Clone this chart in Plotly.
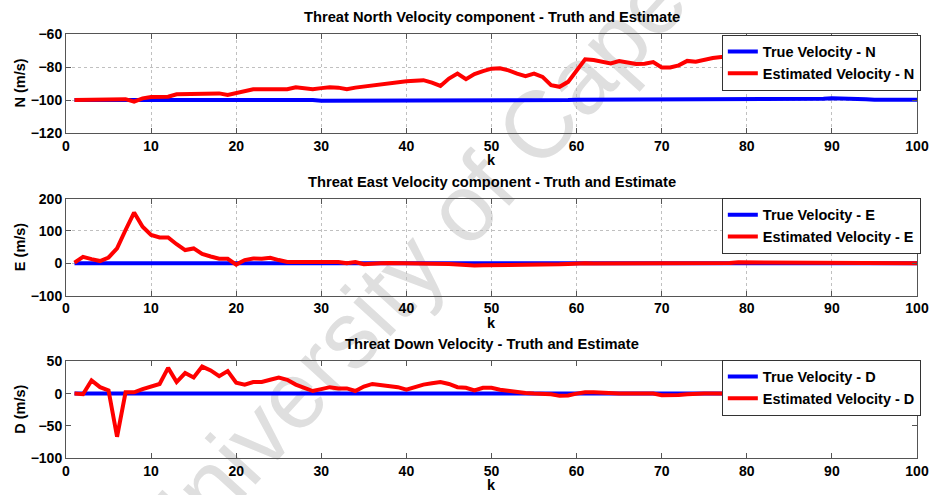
import plotly.graph_objects as go

k = list(range(1, 101))

north_true = [
    -100, -100, -100, -100, -100, -100, -100, -100, -100, -99.6,
    -99.6, -99.6, -99.6, -99.6, -99.6, -99.6, -99.6, -99.6, -100, -100,
    -100, -100, -100, -100, -100, -100, -100, -100, -100, -100.5,
    -100.5, -100.5, -100.5, -100.5, -100.5, -100.5, -100.5, -100.3, -100.3, -100.5,
    -100.5, -100.5, -100.5, -100.3, -100.3, -100.3, -100.3, -100.3, -100.2, -100,
    -100, -100, -100, -100, -100, -100, -100, -100, -100, -99.8,
    -99.8, -99.6, -99.6, -99.6, -99.6, -99.6, -99.6, -99.6, -99.6, -99.6,
    -99.6, -99.8, -99.8, -99.8, -99.8, -99.6, -99.6, -99.6, -99.6, -99.6,
    -99.6, -99.6, -99.6, -99.6, -99.6, -99.6, -99.3, -99.2, -99.2, -99.0,
    -99.0, -99.0, -99.3, -99.6, -99.8, -99.8, -99.8, -99.8, -99.8, -99.8,
]
north_est = [
    -100, -100, -100, -100, -99.8, -99.5, -99.5, -101, -99, -98.2,
    -98, -98, -96.5, -96.5, -96, -96, -96, -96, -97, -96,
    -94.5, -93.5, -93.5, -93.5, -93.5, -93.5, -92.3, -93, -93.5, -92.8,
    -92.3, -92.5, -93.5, -92.5, -91.8, -91.2, -90.5, -90, -89.3, -88.7,
    -88.3, -88, -89.5, -91.5, -87, -84, -87.4, -84.3, -82.5, -81,
    -80.8, -82, -84, -85.5, -84, -86, -91, -92, -89, -82,
    -75.3, -75.8, -76.5, -77.8, -76.4, -77, -78.2, -78, -77, -80.3,
    -80.3, -79, -76.3, -76.8, -75.5, -74.5, -74, -74, -74, -73.5,
    -74, -73, -72.5, -73, -72, -71.5, -72, -71, -70.5, -71,
    -70, -70.5, -69.5, -69, -69.5, -68.5, -68, -67, -66, -63,
]

east_true = [
    0, 0, 0, 0, 0, 0, 0, 0, 0, 0,
    0, 0, 0, 0, 0, 0, 0, 0, 0, 0,
    0, 0, 0, 0, 0, 0, 0, 0, 0, 0,
    0, 0, 0, 0, 0, 0, 0, 0, 0, 0,
    0, 0, 0, 0, 0, 0, 0, 0, 0, 0,
    0, 0, 0, 0, 0, 0, 0, 0, 0, 0,
    0, 0, 0, 0, 0, 0, 0, 0, 0, 0,
    0, 0, 0, 0, 0, 0, 0, 0, 0, 0,
    0, 0, 0, 0, 0, 0, 0, 0, 0, 0,
    0, 0, 0, 0, 0, 0, 0, 0, 0, 0,
]
east_est = [
    2, 20, 13, 7, 18, 46, 103, 157, 113, 88,
    80, 80, 59, 41, 46, 29, 21, 14, 14, -4,
    10, 15, 14, 17, 10, 4, 4, 4, 5, 5,
    5, 4, 0, 4, -3, 0, 0, 1, 1, 0,
    0, 1, 1, 0, -2, -4, -6, -7, -6, -6,
    -5, -5, -4, -4, -4, -3, -3, -3, -2, 0,
    0, -1, -1, 0, 0, 1, 2, 2, 1, 1,
    0, 0, 1, 1, 1, 0, 1, 1, 3, 3,
    2, 2, 3, 3, 2, 2, 2, 1, 1, 1,
    2, 2, 1, 1, 1, 1, 1, 1, 0, 0,
]

down_true = [
    0, 0, 0, 0, 0, 0, 0, 0, 0, 0,
    0, 0, 0, 0, 0, 0, 0, 0, 0, 0,
    0, 0, 0, 0, 0, 0, 0, 0, 0, 0,
    0, 0, 0, 0, 0, 0, 0, 0, 0, 0,
    0, 0, 0, 0, 0, 0, 0, 0, 0, 0,
    0, 0, 0, 0, 0, 0, 0, 0, 0, 0,
    0, 0, 0, 0, 0, 0, 0, 0, 0, 0,
    0, 0, 0, 0, 0, 0, 0, 0, 0, 0,
    0, 0, 0, 0, 0, 0, 0, 0, 0, 0,
    0, 0, 0, 0, 0, 0, 0, 0, 0, 0,
]
down_est = [
    0, -1, 20.5, 10, 5, -67, 2, 2, 7, 11,
    15, 40, 18, 32, 25, 42, 36, 27, 35, 17,
    14, 18, 18, 21.5, 25, 21.5, 14, 9, 4, 7,
    10, 8, 8, 4, 11, 15, 13, 12, 10, 6,
    10, 14, 16, 18, 15, 10, 9, 5, 9, 9,
    6, 4, 2.5, 1, 0, 0, -1, -3.5, -3, 0,
    2, 2, 1, 0, 0, 0, 0, 0, 0, -2.5,
    -3, -2, -1, 0, 0, 0, 0, 0, 0, 0,
    0, 0, 0, 0, 0, 0, 0, 0, 0, 0,
    0, 0, 0, 0, 0, 0, 0, 0, 0, -1,
]

titles = [
    "Threat North Velocity component - Truth and Estimate",
    "Threat East Velocity component - Truth and Estimate",
    "Threat Down Velocity - Truth and Estimate",
]
y_titles = ["N (m/s)", "E (m/s)", "D (m/s)"]
y_ranges = [[-120, -60], [-100, 200], [-100, 50]]
y_dticks = [20, 100, 50]
suffixes = ["N", "E", "D"]
true_series = [north_true, east_true, down_true]
est_series = [north_est, east_est, down_est]
watermark = "University of Cape"

FONT = "Liberation Sans, Arial, Helvetica, sans-serif"
AX = "#555555"
GRID = "#c0c0c0"

domains = [[0.7665, 1.0], [0.383, 0.6116], [0.0, 0.2278]]
legend_tops = [0.9988, 0.6137, 0.2323]

fig = go.Figure()
annotations = []
for i in range(3):
    n = "" if i == 0 else str(i + 1)
    lg = "legend" if i == 0 else "legend" + str(i + 1)
    fig.add_trace(go.Scatter(x=k, y=true_series[i], mode="lines",
                             line=dict(color="#0000ff", width=4),
                             name="True Velocity - " + suffixes[i],
                             xaxis="x" + n, yaxis="y" + n, legend=lg))
    fig.add_trace(go.Scatter(x=k, y=est_series[i], mode="lines",
                             line=dict(color="#ff0000", width=4),
                             name="Estimated Velocity - " + suffixes[i],
                             xaxis="x" + n, yaxis="y" + n, legend=lg))
    grid = i < 2
    fig.update_layout(**{
        "xaxis" + n: dict(domain=[0, 1], range=[0, 100], dtick=10, tick0=0,
                          anchor="y" + n, showline=True, linecolor=AX, linewidth=1,
                          mirror="ticks", ticks="inside", ticklen=5, tickcolor=AX,
                          showgrid=grid, gridcolor=GRID, griddash="dot", gridwidth=1,
                          zeroline=False,
                          tickfont=dict(family=FONT, size=14, color="black", weight="bold")),
        "yaxis" + n: dict(domain=domains[i], range=y_ranges[i], dtick=y_dticks[i],
                          anchor="x" + n, showline=True, linecolor=AX, linewidth=1,
                          mirror="ticks", ticks="inside", ticklen=5, tickcolor=AX,
                          showgrid=grid, gridcolor=GRID, griddash="dot", gridwidth=1,
                          zeroline=False,
                          tickfont=dict(family=FONT, size=14, color="black", weight="bold")),
        lg: dict(x=1.0045, xanchor="right", y=legend_tops[i], yanchor="top",
                 xref="paper", yref="paper",
                 bgcolor="white", bordercolor="#333333", borderwidth=1,
                 font=dict(family=FONT, size=14.5, color="black", weight="bold"),
                 tracegroupgap=0),
    })
    annotations.append(dict(text=titles[i], xref="paper", yref="paper", x=0.5,
                            y=domains[i][1], yanchor="middle", xanchor="center",
                            yshift=17, showarrow=False,
                            font=dict(family=FONT, size=14.7, color="black", weight="bold")))
    annotations.append(dict(text="k", xref="paper", yref="paper", x=0.5,
                            y=domains[i][0], yanchor="middle", xanchor="center",
                            yshift=-27, showarrow=False,
                            font=dict(family=FONT, size=14.5, color="black", weight="bold")))
    annotations.append(dict(text=y_titles[i], xref="paper", yref="paper", x=0,
                            y=(domains[i][0] + domains[i][1]) / 2, yanchor="middle",
                            xanchor="center", xshift=-46, textangle=-90, showarrow=False,
                            font=dict(family=FONT, size=14.5, color="black", weight="bold")))

fig.update_layout(
    width=941, height=495,
    margin=dict(l=66, r=15, t=34, b=37),
    paper_bgcolor="white",
    plot_bgcolor="rgba(0,0,0,0)",
    showlegend=True,
    annotations=annotations,
    shapes=[dict(type="rect", xref="paper", yref="paper",
                 x0=0.342, x1=0.442, y0=0.408, y1=0.508, layer="below",
                 line=dict(width=0), fillcolor="rgba(0,0,0,0)",
                 label=dict(text=watermark, textangle=-47.7,
                            textposition="middle center",
                            font=dict(family=FONT, size=95, color="#dfdfdf")))],
)

fig.write_html("out.html",
               config={"displayModeBar": False},
               post_script="document.documentElement.style.margin='0';"
                           "document.body.style.margin='0';"
                           "document.body.style.overflow='hidden';")
